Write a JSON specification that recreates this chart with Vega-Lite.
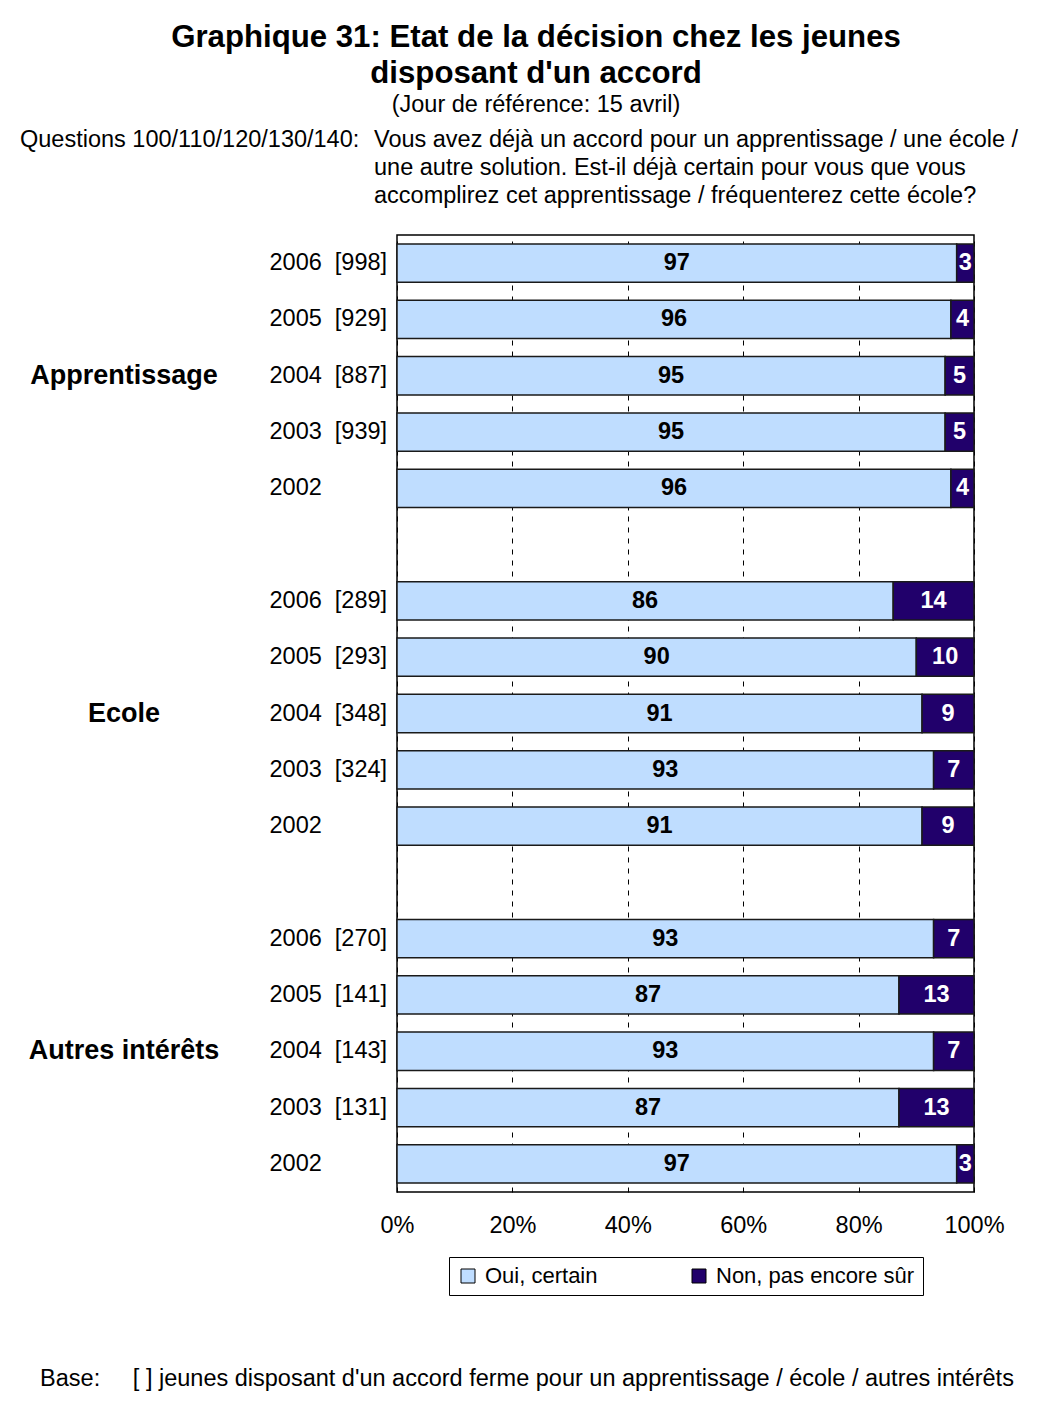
{
  "$schema": "https://vega.github.io/schema/vega-lite/v6.json",
  "padding": {"left": 20, "top": 22, "right": 10, "bottom": 0},
  "config": {
    "font": "Liberation Sans",
    "view": {"stroke": null},
    "title": {"color": "black", "subtitleColor": "black"},
    "axis": {"labelColor": "black"},
    "legend": {"layout": {"bottom": {"anchor": "middle"}}}
  },
  "title": {
    "text": ["Graphique 31: Etat de la décision chez les jeunes", "disposant d'un accord"],
    "subtitle": "(Jour de référence: 15 avril)",
    "fontSize": 31.2,
    "fontWeight": "bold",
    "lineHeight": 36,
    "subtitleFontSize": 23.5,
    "subtitlePadding": 4,
    "anchor": "middle",
    "offset": 10,
    "dx": 9
  },
  "datasets": {
    "bars": [
      {"row": "A|2006\u00a0\u00a0[998]", "answer": "Oui, certain", "value": 97},
      {"row": "A|2006\u00a0\u00a0[998]", "answer": "Non, pas encore sûr", "value": 3},
      {"row": "A|2005\u00a0\u00a0[929]", "answer": "Oui, certain", "value": 96},
      {"row": "A|2005\u00a0\u00a0[929]", "answer": "Non, pas encore sûr", "value": 4},
      {"row": "A|2004\u00a0\u00a0[887]", "answer": "Oui, certain", "value": 95},
      {"row": "A|2004\u00a0\u00a0[887]", "answer": "Non, pas encore sûr", "value": 5},
      {"row": "A|2003\u00a0\u00a0[939]", "answer": "Oui, certain", "value": 95},
      {"row": "A|2003\u00a0\u00a0[939]", "answer": "Non, pas encore sûr", "value": 5},
      {"row": "A|2002", "answer": "Oui, certain", "value": 96},
      {"row": "A|2002", "answer": "Non, pas encore sûr", "value": 4},
      {"row": "E|2006\u00a0\u00a0[289]", "answer": "Oui, certain", "value": 86},
      {"row": "E|2006\u00a0\u00a0[289]", "answer": "Non, pas encore sûr", "value": 14},
      {"row": "E|2005\u00a0\u00a0[293]", "answer": "Oui, certain", "value": 90},
      {"row": "E|2005\u00a0\u00a0[293]", "answer": "Non, pas encore sûr", "value": 10},
      {"row": "E|2004\u00a0\u00a0[348]", "answer": "Oui, certain", "value": 91},
      {"row": "E|2004\u00a0\u00a0[348]", "answer": "Non, pas encore sûr", "value": 9},
      {"row": "E|2003\u00a0\u00a0[324]", "answer": "Oui, certain", "value": 93},
      {"row": "E|2003\u00a0\u00a0[324]", "answer": "Non, pas encore sûr", "value": 7},
      {"row": "E|2002", "answer": "Oui, certain", "value": 91},
      {"row": "E|2002", "answer": "Non, pas encore sûr", "value": 9},
      {"row": "O|2006\u00a0\u00a0[270]", "answer": "Oui, certain", "value": 93},
      {"row": "O|2006\u00a0\u00a0[270]", "answer": "Non, pas encore sûr", "value": 7},
      {"row": "O|2005\u00a0\u00a0[141]", "answer": "Oui, certain", "value": 87},
      {"row": "O|2005\u00a0\u00a0[141]", "answer": "Non, pas encore sûr", "value": 13},
      {"row": "O|2004\u00a0\u00a0[143]", "answer": "Oui, certain", "value": 93},
      {"row": "O|2004\u00a0\u00a0[143]", "answer": "Non, pas encore sûr", "value": 7},
      {"row": "O|2003\u00a0\u00a0[131]", "answer": "Oui, certain", "value": 87},
      {"row": "O|2003\u00a0\u00a0[131]", "answer": "Non, pas encore sûr", "value": 13},
      {"row": "O|2002", "answer": "Oui, certain", "value": 97},
      {"row": "O|2002", "answer": "Non, pas encore sûr", "value": 3}
    ],
    "groups": [
      {"row": "A|2004\u00a0\u00a0[887]", "label": "Apprentissage"},
      {"row": "E|2004\u00a0\u00a0[348]", "label": "Ecole"},
      {"row": "O|2004\u00a0\u00a0[143]", "label": "Autres intérêts"}
    ],
    "footer": [
      {"note": "Base:\u00a0\u00a0\u00a0\u00a0\u00a0[ ] jeunes disposant d'un accord ferme pour un apprentissage / école / autres intérêts"}
    ]
  },
  "spacing": 70,
  "vconcat": [
    {
      "hconcat": [
        {
          "width": 208,
          "height": 957,
          "view": {"stroke": null},
          "title": {"text": "Questions 100/110/120/130/140:", "anchor": "start", "frame": "group", "fontSize": 23.5, "fontWeight": "normal", "offset": 84},
          "data": {"name": "groups"},
          "mark": {"type": "text", "fontSize": 27, "fontWeight": "bold", "align": "center", "baseline": "middle", "color": "black"},
          "encoding": {
            "y": {
              "field": "row", "type": "nominal",
              "scale": {
                "domain": ["A|2006\u00a0\u00a0[998]", "A|2005\u00a0\u00a0[929]", "A|2004\u00a0\u00a0[887]", "A|2003\u00a0\u00a0[939]", "A|2002", "gap1", "E|2006\u00a0\u00a0[289]", "E|2005\u00a0\u00a0[293]", "E|2004\u00a0\u00a0[348]", "E|2003\u00a0\u00a0[324]", "E|2002", "gap2", "O|2006\u00a0\u00a0[270]", "O|2005\u00a0\u00a0[141]", "O|2004\u00a0\u00a0[143]", "O|2003\u00a0\u00a0[131]", "O|2002"],
                "paddingInner": 0.32, "paddingOuter": 0.16
              },
              "axis": null
            },
            "text": {"field": "label", "type": "nominal"}
          }
        },
        {
          "width": 577,
          "height": 957,
          "view": {"stroke": "black", "strokeWidth": 1.5},
          "title": {
            "text": ["Vous avez déjà un accord pour un apprentissage / une école /", "une autre solution. Est-il déjà certain pour vous que vous", "accomplirez cet apprentissage / fréquenterez cette école?"],
            "anchor": "start", "frame": "group", "dx": -23, "fontSize": 23.5, "fontWeight": "normal", "lineHeight": 28, "offset": 28
          },
          "data": {"name": "bars"},
          "encoding": {
            "y": {
              "field": "row", "type": "nominal",
              "scale": {
                "domain": ["A|2006\u00a0\u00a0[998]", "A|2005\u00a0\u00a0[929]", "A|2004\u00a0\u00a0[887]", "A|2003\u00a0\u00a0[939]", "A|2002", "gap1", "E|2006\u00a0\u00a0[289]", "E|2005\u00a0\u00a0[293]", "E|2004\u00a0\u00a0[348]", "E|2003\u00a0\u00a0[324]", "E|2002", "gap2", "O|2006\u00a0\u00a0[270]", "O|2005\u00a0\u00a0[141]", "O|2004\u00a0\u00a0[143]", "O|2003\u00a0\u00a0[131]", "O|2002"],
                "paddingInner": 0.32, "paddingOuter": 0.16
              },
              "axis": {
                "title": null, "ticks": false, "domain": false,
                "labelAlign": "left", "labelPadding": 128, "labelFontSize": 23.5, "labelColor": "black", "labelLimit": 300,
                "labelExpr": "indexof(datum.value, '|') >= 0 ? split(datum.value, '|')[1] : ''"
              }
            }
          },
          "layer": [
            {
              "mark": {"type": "bar", "stroke": "#1a1a1a", "strokeWidth": 1.5},
              "encoding": {
                "x": {
                  "field": "value", "type": "quantitative", "stack": "zero",
                  "scale": {"domain": [0, 100], "nice": false},
                  "axis": {
                    "title": null, "values": [0, 20, 40, 60, 80, 100],
                    "labelExpr": "datum.value + '%'",
                    "grid": true, "gridDash": [5, 6], "gridColor": "black", "gridOpacity": 1, "gridWidth": 1,
                    "ticks": false, "domain": false,
                    "labelFontSize": 23.5, "labelColor": "black", "labelPadding": 21, "labelFlush": false
                  }
                },
                "color": {
                  "field": "answer", "type": "nominal",
                  "scale": {"domain": ["Oui, certain", "Non, pas encore sûr"], "range": ["#BFDDFF", "#21006B"]},
                  "legend": {
                    "orient": "bottom", "direction": "horizontal", "title": null,
                    "symbolType": "square", "symbolSize": 196, "symbolStrokeColor": "black", "symbolStrokeWidth": 1,
                    "labelFontSize": 22, "labelColor": "black", "labelOffset": 6, "labelLimit": 400,
                    "columnPadding": 90, "padding": 8, "strokeColor": "black", "offset": 20
                  }
                },
                "order": {"field": "answer", "type": "nominal", "sort": "descending"}
              }
            },
            {
              "mark": {"type": "text", "fontSize": 23.5, "fontWeight": "bold", "baseline": "middle", "align": "center"},
              "encoding": {
                "x": {"field": "value", "type": "quantitative", "stack": "zero", "bandPosition": 0.5},
                "detail": {"field": "answer", "type": "nominal"},
                "order": {"field": "answer", "type": "nominal", "sort": "descending"},
                "text": {"field": "value", "type": "quantitative"},
                "color": {"condition": {"test": "datum.answer === 'Non, pas encore sûr'", "value": "white"}, "value": "black"}
              }
            }
          ]
        }
      ],
      "spacing": 169,
      "bounds": "flush",
      "resolve": {"legend": {"color": "independent"}, "scale": {"color": "independent"}}
    },
    {
      "width": 1014,
      "height": 20,
      "view": {"stroke": null},
      "data": {"name": "footer"},
      "mark": {"type": "text", "fontSize": 23.5, "align": "center", "baseline": "middle", "color": "black"},
      "encoding": {"text": {"field": "note", "type": "nominal"}}
    }
  ]
}
